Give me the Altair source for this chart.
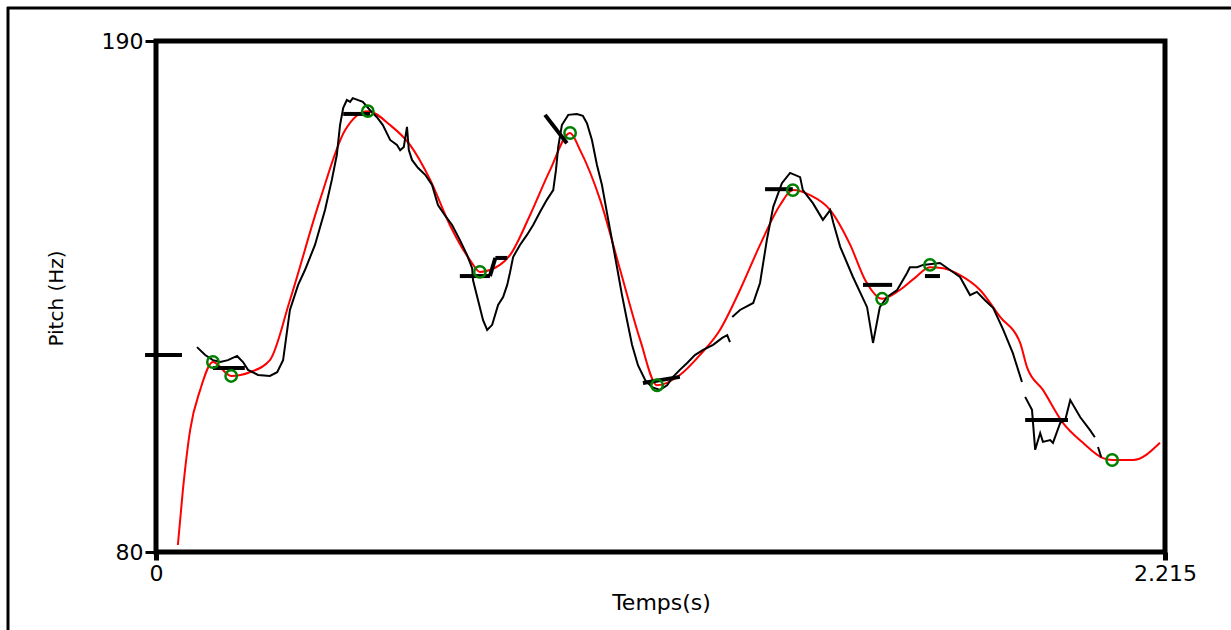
import altair as alt
import pandas as pd

# Smoothed (red) pitch curve
red_t = [0.048, 0.059, 0.075, 0.097, 0.125, 0.165, 0.206, 0.250, 0.294, 0.360, 0.415, 0.465,
         0.514, 0.558, 0.602, 0.645, 0.689, 0.711, 0.755, 0.777, 0.821, 0.865, 0.909, 0.931,
         0.975, 1.019, 1.063, 1.100, 1.150, 1.194, 1.238, 1.282, 1.326, 1.370, 1.398, 1.436,
         1.480, 1.524, 1.557, 1.594, 1.633, 1.666, 1.699, 1.728, 1.765, 1.809, 1.853, 1.897,
         1.912, 1.947, 1.991, 2.035, 2.079, 2.099, 2.145, 2.204]
red_hz = [81.5, 93.3, 106.3, 114.9, 120.9, 117.9, 118.7, 121.3, 134.2, 155.8, 170.8, 174.9,
          171.9, 167.6, 160.1, 150.4, 142.9, 140.3, 141.8, 143.9, 152.5, 162.2, 170.2, 166.5,
          155.8, 140.7, 125.6, 115.9, 118.1, 122.4, 127.8, 136.4, 146.1, 154.7, 157.9, 156.8,
          153.6, 146.1, 138.5, 134.5, 136.4, 139.0, 141.3, 141.1, 139.6, 136.4, 130.6, 125.0,
          119.8, 114.9, 107.8, 103.5, 100.2, 99.8, 99.8, 103.5]

# Raw (black) pitch track, in voiced segments
seg1_t = [0.090, 0.108, 0.125, 0.141, 0.158, 0.178, 0.191, 0.202, 0.224, 0.250, 0.266, 0.279,
          0.285, 0.294, 0.312, 0.327, 0.349, 0.371, 0.386, 0.397, 0.404, 0.411, 0.419, 0.426,
          0.432, 0.454, 0.470, 0.485, 0.498, 0.514, 0.529, 0.536, 0.544, 0.551, 0.555, 0.562,
          0.575, 0.591, 0.606, 0.619, 0.634, 0.650, 0.667, 0.683, 0.694, 0.696, 0.707, 0.718,
          0.727, 0.738, 0.751, 0.762, 0.771, 0.777, 0.784, 0.799, 0.814, 0.828, 0.843, 0.858,
          0.872, 0.878, 0.883, 0.891, 0.905, 0.924, 0.937, 0.946, 0.957, 0.968, 0.979, 0.990,
          1.001, 1.012, 1.023, 1.034, 1.045, 1.058, 1.074, 1.089, 1.106, 1.122, 1.135, 1.150,
          1.166, 1.183, 1.201, 1.223, 1.243, 1.254, 1.260]
seg1_hz = [124.1, 122.4, 121.3, 120.9, 121.3, 122.2, 120.9, 119.2, 118.1, 117.9, 118.7, 121.3,
           125.6, 132.1, 137.5, 140.7, 146.1, 153.6, 160.1, 165.5, 171.9, 175.6, 177.3, 176.9,
           177.7, 176.9, 175.1, 173.6, 171.9, 168.7, 167.6, 166.5, 167.2, 171.5, 166.5, 164.4,
           162.7, 161.2, 159.0, 154.7, 152.5, 150.4, 147.2, 143.9, 141.1, 138.5, 134.2, 129.9,
           127.8, 128.9, 133.2, 134.9, 137.5, 140.1, 143.5, 146.1, 148.2, 150.4, 153.2, 155.8,
           157.9, 162.2, 167.2, 171.9, 174.1, 174.3, 173.9, 172.3, 168.7, 163.3, 159.0, 153.0,
           147.2, 141.3, 135.3, 129.9, 124.6, 120.2, 117.0, 115.5, 114.9, 115.9, 117.7, 119.2,
           120.7, 122.4, 123.5, 124.6, 126.1, 126.7, 125.2]
seg2_t = [1.265, 1.282, 1.311, 1.326, 1.341, 1.355, 1.374, 1.392, 1.414, 1.420, 1.442, 1.464,
          1.480, 1.487, 1.502, 1.530, 1.561, 1.574, 1.589, 1.605, 1.627, 1.649, 1.655, 1.671,
          1.684, 1.721, 1.743, 1.765, 1.787, 1.802, 1.820, 1.838, 1.860, 1.881, 1.901]
seg2_hz = [130.6, 132.1, 133.6, 137.9, 147.2, 154.3, 159.4, 161.6, 160.7, 157.9, 155.1, 151.5,
           153.6, 150.8, 145.7, 139.2, 132.7, 125.0, 132.7, 134.9, 136.4, 140.1, 141.3, 141.3,
           141.8, 142.2, 140.7, 139.2, 135.3, 136.0, 134.2, 132.5, 127.8, 122.8, 116.6]
seg3_t = [1.908, 1.923, 1.930, 1.941, 1.947, 1.963, 1.969, 1.985, 1.996, 2.007, 2.029, 2.050, 2.061]
seg3_hz = [113.4, 110.6, 102.0, 105.6, 103.7, 104.1, 103.5, 107.8, 108.4, 112.7, 109.0, 106.3, 104.7]
seg4_t = [2.068, 2.075]
seg4_hz = [102.6, 100.4]

# Target bars (thick black strokes)
tgt_t1 = [-0.024, 0.125, 0.411, 0.667, 0.733, 0.745, 0.854, 1.069, 1.337, 1.552, 1.688, 1.908]
tgt_t2 = [0.057, 0.195, 0.470, 0.733, 0.745, 0.771, 0.902, 1.150, 1.398, 1.616, 1.721, 2.002]
tgt_hz1 = [122.4, 119.6, 174.3, 139.4, 139.4, 143.3, 174.1, 116.4, 158.1, 137.5, 139.4, 108.4]
tgt_hz2 = [122.4, 119.6, 174.3, 139.4, 143.3, 143.3, 168.0, 117.7, 158.1, 137.5, 139.4, 108.4]

# Green anchor points
pt_t = [0.125, 0.165, 0.465, 0.711, 0.909, 1.100, 1.398, 1.594, 1.699, 2.099]
pt_hz = [120.9, 117.9, 174.9, 140.3, 170.2, 115.9, 157.9, 134.5, 141.8, 99.8]

x_ticks = [0, 2.215]
y_ticks = [80, 190]

red_df = pd.DataFrame({"t": red_t, "hz": red_hz})
black_df = pd.concat([
    pd.DataFrame({"t": seg1_t, "hz": seg1_hz, "seg": 1}),
    pd.DataFrame({"t": seg2_t, "hz": seg2_hz, "seg": 2}),
    pd.DataFrame({"t": seg3_t, "hz": seg3_hz, "seg": 3}),
    pd.DataFrame({"t": seg4_t, "hz": seg4_hz, "seg": 4}),
], ignore_index=True)
black_df["i"] = range(len(black_df))
tgt_df = pd.DataFrame({"t1": tgt_t1, "t2": tgt_t2, "h1": tgt_hz1, "h2": tgt_hz2})
pt_df = pd.DataFrame({"t": pt_t, "hz": pt_hz})

FONT = "DejaVu Sans"

xscale = alt.Scale(domain=[0, 2.215], nice=False, zero=False)
yscale = alt.Scale(domain=[80, 190], nice=False, zero=False)

xaxis = alt.Axis(values=x_ticks, labelExpr="format(datum.value, '.4~g')", title="Temps(s)",
                 grid=False, domain=False, labelFlush=False, labelOverlap=False,
                 tickSize=8, tickWidth=5, tickColor="black", labelPadding=3,
                 labelFont=FONT, labelFontSize=22, labelColor="black",
                 titleFont=FONT, titleFontSize=22, titleFontWeight="normal", titleColor="black",
                 titleX=505, titleY=57, titleAlign="center", titleBaseline="alphabetic")
yaxis = alt.Axis(values=y_ticks, title="Pitch (Hz)", grid=False, domain=False,
                 labelFlush=False, labelOverlap=False,
                 tickSize=11, tickWidth=3, tickColor="black", labelPadding=2,
                 labelFont=FONT, labelFontSize=22, labelColor="black",
                 titleFont=FONT, titleFontSize=20, titleFontWeight="normal", titleColor="black",
                 titleAngle=-90, titleX=-100, titleY=257, titleAlign="center",
                 titleBaseline="middle")

red = alt.Chart(red_df).mark_line(color="#ff0000", strokeWidth=2, interpolate="monotone").encode(
    x=alt.X("t:Q", scale=xscale, axis=xaxis),
    y=alt.Y("hz:Q", scale=yscale, axis=yaxis),
)

black = alt.Chart(black_df).mark_line(color="black", strokeWidth=2).encode(
    x=alt.X("t:Q", scale=xscale),
    y=alt.Y("hz:Q", scale=yscale),
    detail="seg:N",
    order="i:Q",
)

targets = alt.Chart(tgt_df).mark_rule(color="black", strokeWidth=4).encode(
    x=alt.X("t1:Q", scale=xscale),
    x2="t2:Q",
    y=alt.Y("h1:Q", scale=yscale),
    y2="h2:Q",
)

points = alt.Chart(pt_df).mark_point(shape="circle", size=130, color="#008000",
                                     strokeWidth=2.5, filled=False, opacity=1).encode(
    x=alt.X("t:Q", scale=xscale),
    y=alt.Y("hz:Q", scale=yscale),
)

one = pd.DataFrame({"a": [0]})
frame_left = alt.Chart(one).mark_rule(color="black", strokeWidth=3).encode(
    x=alt.value(-148), y=alt.value(-34), y2=alt.value(600))
frame_top = alt.Chart(one).mark_rule(color="black", strokeWidth=3).encode(
    x=alt.value(-149), x2=alt.value(1080), y=alt.value(-33))

chart = alt.layer(red, black, targets, points, frame_left, frame_top).properties(
    width=1009, height=511,
    padding={"left": 156, "top": 41, "right": 66, "bottom": 78},
    autosize=alt.AutoSizeParams(type="none"),
    background="white",
).configure_view(stroke="black", strokeWidth=5)

chart.save("out.html", embed_options={"renderer": "svg", "actions": False})
